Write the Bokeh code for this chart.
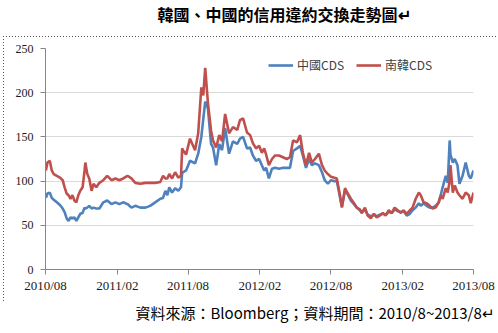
import pandas as pd
from bokeh.plotting import figure
from bokeh.models import (FixedTicker, DatetimeTickFormatter, Range1d, Title,
                          Legend, LegendItem, ColumnDataSource)
from bokeh.embed import file_html
from bokeh.resources import INLINE

# ---------------- data ----------------
dates = [
    "2010-08-02", "2010-08-06", "2010-08-12", "2010-08-17", "2010-08-22", "2010-08-30",
    "2010-09-07", "2010-09-14", "2010-09-19", "2010-09-24", "2010-09-29",
    "2010-10-04", "2010-10-09", "2010-10-14", "2010-10-19", "2010-10-24", "2010-10-29",
    "2010-11-04", "2010-11-09", "2010-11-11", "2010-11-16", "2010-11-21", "2010-11-27",
    "2010-12-02", "2010-12-09", "2010-12-17", "2010-12-27",
    "2011-01-06", "2011-01-17", "2011-01-27", "2011-02-06", "2011-02-16", "2011-02-27",
    "2011-03-09", "2011-03-19", "2011-04-01", "2011-04-14", "2011-04-26",
    "2011-05-09", "2011-05-22", "2011-05-29", "2011-06-04", "2011-06-09", "2011-06-14",
    "2011-06-21", "2011-06-29", "2011-07-07", "2011-07-14", "2011-07-17", "2011-07-19",
    "2011-07-27", "2011-08-06", "2011-08-19", "2011-08-27", "2011-09-04", "2011-09-09",
    "2011-09-14", "2011-09-21", "2011-09-29", "2011-10-04", "2011-10-12", "2011-10-20",
    "2011-10-27", "2011-11-04", "2011-11-14", "2011-11-24", "2011-12-05", "2011-12-12",
    "2011-12-20", "2011-12-30",
    "2012-01-07", "2012-01-14", "2012-01-22", "2012-01-30", "2012-02-06", "2012-02-12",
    "2012-02-17", "2012-02-24", "2012-03-03", "2012-03-11", "2012-03-21", "2012-03-31",
    "2012-04-10", "2012-04-18", "2012-04-26", "2012-05-06", "2012-05-14", "2012-05-21",
    "2012-05-29", "2012-06-06", "2012-06-13", "2012-06-21", "2012-07-01", "2012-07-09",
    "2012-07-16", "2012-07-24", "2012-08-01", "2012-08-08", "2012-08-16", "2012-08-24",
    "2012-08-29", "2012-09-06", "2012-09-13", "2012-09-21", "2012-09-29", "2012-10-06",
    "2012-10-14", "2012-10-19", "2012-10-27", "2012-11-03", "2012-11-11", "2012-11-19",
    "2012-11-26", "2012-12-04", "2012-12-12", "2012-12-19", "2012-12-27",
    "2013-01-04", "2013-01-11", "2013-01-19", "2013-01-27", "2013-02-03", "2013-02-11",
    "2013-02-19", "2013-02-26", "2013-03-06", "2013-03-14", "2013-03-19", "2013-03-26",
    "2013-04-03", "2013-04-11", "2013-04-18", "2013-04-26", "2013-05-04", "2013-05-09",
    "2013-05-14", "2013-05-22", "2013-05-27", "2013-06-01", "2013-06-03", "2013-06-09",
    "2013-06-14", "2013-06-21", "2013-06-26", "2013-07-04", "2013-07-12", "2013-07-20",
    "2013-07-25", "2013-08-01",
]

korea_cds = [
    112, 121, 123, 112, 108, 106, 104, 101, 93, 86, 84, 80, 84, 78, 76, 84, 89,
    93, 112, 121, 108, 103, 89, 97, 93, 98, 101,
    106, 101, 103, 101, 103, 106, 103, 98, 97, 98, 98, 98, 99, 106,
    103, 103, 108, 103, 110, 104, 106, 137, 135, 130, 148, 135, 154,
    206, 197, 228, 188, 157, 146, 138, 152, 145, 176, 154, 161, 158, 169, 171, 155,
    152, 143, 137, 140, 132, 137, 130, 118, 125, 129, 129, 127, 125, 127, 146,
    144, 152, 132, 118, 132, 121, 125, 131, 118, 112, 108, 105, 104, 103, 84, 70,
    92, 86, 80, 75, 70, 68, 64, 70, 61, 58, 63, 59, 61, 64, 61, 67,
    64, 70, 67, 64, 67, 63, 67, 70, 80, 87, 84, 76, 75, 72, 69, 70,
    76, 84, 80, 92, 87, 100, 118, 87, 95, 87, 84, 80, 87, 84, 75, 87,
]

china_cds = [
    81, 86, 87, 81, 79, 76, 73, 69, 65, 58, 55, 59, 58, 59, 55, 59, 63,
    64, 70, 69, 70, 72, 69, 70, 69, 69, 76,
    78, 74, 76, 74, 76, 74, 70, 72, 70, 70, 72, 76, 80, 81,
    89, 84, 93, 87, 92, 89, 93, 110, 110, 112, 123, 120, 131,
    150, 170, 190, 182, 142, 138, 118, 142, 135, 160, 131, 145, 142, 148, 150, 137,
    138, 129, 123, 125, 118, 112, 115, 103, 114, 115, 114, 115, 115, 115, 134,
    137, 140, 129, 115, 125, 118, 120, 118, 110, 101, 97, 101, 100, 100, 82, 71,
    90, 85, 78, 74, 70, 67, 64, 68, 62, 60, 62, 60, 62, 63, 62, 65,
    64, 68, 66, 65, 66, 61, 63, 67, 70, 75, 72, 75, 72, 70, 70, 72,
    76, 84, 93, 106, 98, 146, 130, 121, 125, 118, 97, 106, 121, 106, 103, 112,
]

x_tick_dates = ["2010-08-01", "2011-02-01", "2011-08-01", "2012-02-01",
                "2012-08-01", "2013-02-01", "2013-08-01"]
y_ticks = [0, 50, 100, 150, 200, 250]

title_text = "韓國、中國的信用違約交換走勢圖↵"
source_text = "資料來源：Bloomberg；資料期間：2010/8~2013/8↵"
series_names = ["中國CDS", "南韓CDS"]

# ---------------- plot ----------------
def ms(d):
    return pd.Timestamp(d).value // 10**6

src = ColumnDataSource(dict(date=pd.to_datetime(dates), china=china_cds, korea=korea_cds))

dotted_frame = (
    "repeating-linear-gradient(to right, #555 0px, #555 1px, transparent 1px, transparent 3px) "
    "3px 36px / 495px 1px no-repeat, "
    "repeating-linear-gradient(to bottom, #555 0px, #555 1px, transparent 1px, transparent 3px) "
    "3px 36px / 1px 266px no-repeat, white"
)

p = figure(width=498, height=333, x_axis_type="datetime",
           output_backend="svg", toolbar_location=None,
           min_border_left=45, min_border_right=25,
           min_border_top=48, min_border_bottom=64,
           x_range=Range1d(ms(x_tick_dates[0]), ms(x_tick_dates[-1])),
           y_range=Range1d(0, 250),
           styles={"background": dotted_frame})
p.outline_line_color = None
p.background_fill_color = "white"
p.border_fill_alpha = 0

r_cn = p.line("date", "china", source=src, line_color="#4F81BD", line_width=2.6)
r_kr = p.line("date", "korea", source=src, line_color="#C0504D", line_width=2.6)

# axes
p.xaxis.ticker = FixedTicker(ticks=[ms(d) for d in x_tick_dates])
p.xaxis.formatter = DatetimeTickFormatter(days="%Y/%m", months="%Y/%m", years="%Y/%m")
p.yaxis.ticker = FixedTicker(ticks=y_ticks)
for ax in (p.xaxis, p.yaxis):
    ax.axis_line_color = "#868686"
    ax.major_tick_line_color = "#868686"
    ax.minor_tick_line_color = None
    ax.major_tick_in = 0
    ax.major_tick_out = 5
    ax.major_label_text_font = "Liberation Serif"
    ax.major_label_text_color = "#1a1a1a"
p.xaxis.major_label_text_font_size = "13px"
p.yaxis.major_label_text_font_size = "12px"
p.xaxis.major_label_standoff = 3
p.yaxis.major_label_standoff = 7

p.xgrid.grid_line_color = None
p.ygrid.grid_line_color = "#D9D9D9"
p.ygrid.grid_line_width = 1

# legend
legend = Legend(items=[LegendItem(label=series_names[0], renderers=[r_cn]),
                       LegendItem(label=series_names[1], renderers=[r_kr])],
                location=(223, 196), orientation="horizontal",
                glyph_width=25, glyph_height=14, label_standoff=4, spacing=12,
                padding=0, margin=0, border_line_color=None,
                background_fill_alpha=0,
                label_text_font="Noto Sans CJK TC", label_text_font_size="12px",
                label_text_color="#404040", label_height=14)
p.add_layout(legend, "center")

# spacer between frame and title (nearest panel), then the title above it
p.add_layout(Title(text=" ", align="left", standoff=0, vertical_align="top",
                   text_font="Noto Sans CJK TC", text_font_size="13px"), "above")
p.add_layout(Title(text=title_text, align="left", offset=112, standoff=0,
                   vertical_align="top",
                   text_font="Noto Sans CJK TC", text_font_style="bold",
                   text_font_size="16px", text_color="#000000"), "above")
p.add_layout(Title(text=source_text, align="left", offset=90, standoff=8,
                   text_font="Noto Sans CJK TC", text_font_style="normal",
                   text_font_size="15px", text_color="#000000"), "below")

open("out.html", "w").write(file_html(p, INLINE))
